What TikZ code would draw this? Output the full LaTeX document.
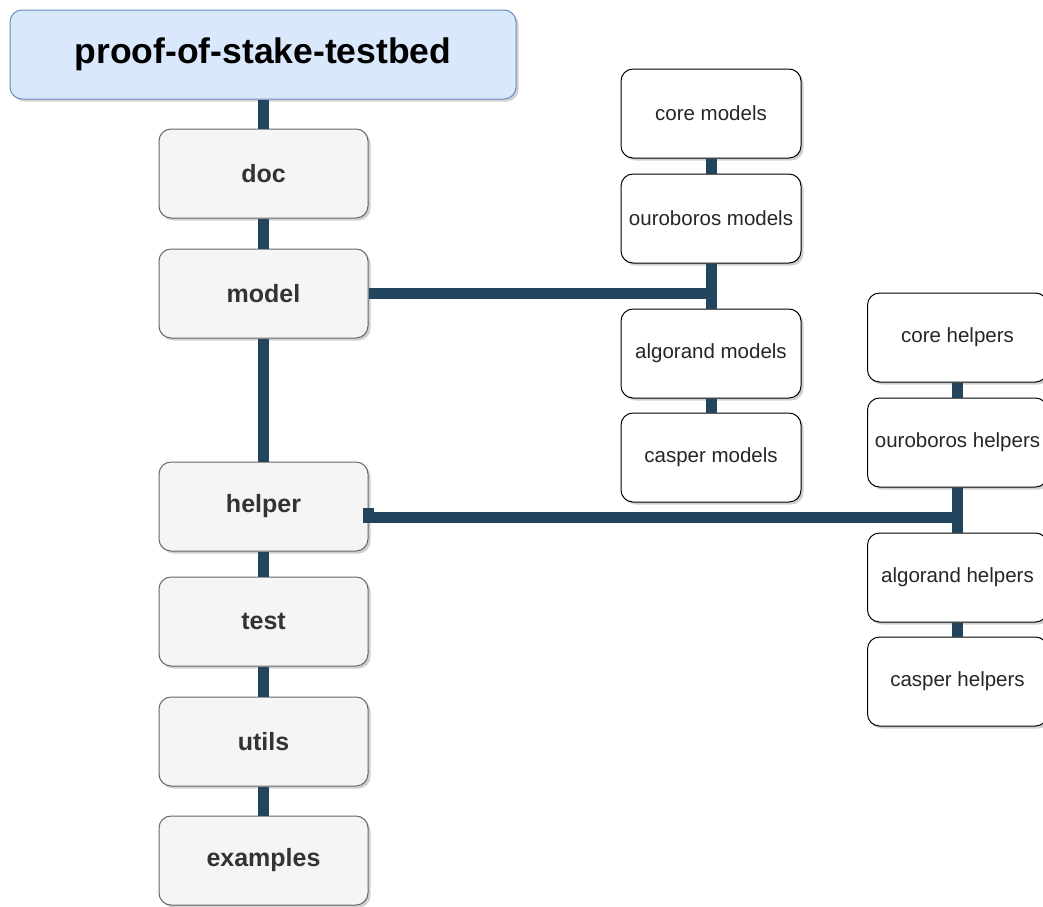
\documentclass[tikz,border=0pt]{standalone}
\usepackage{fontspec}
\setmainfont{Liberation Sans}
\usetikzlibrary{shadows}
\definecolor{linec}{HTML}{23445D}
\definecolor{titlefill}{HTML}{DAE8FC}
\definecolor{titledraw}{HTML}{6C8EBF}
\definecolor{grayfill}{HTML}{F5F5F5}
\definecolor{graydraw}{HTML}{666666}
\definecolor{graytext}{HTML}{333333}
\tikzset{
  shad/.style={drop shadow={shadow xshift=2.5pt,shadow yshift=-2.5pt,opacity=0.3,fill=black!60}},
  titlebox/.style={draw=titledraw,fill=titlefill,line width=1pt,rounded corners=12pt,shad,
    minimum width=506pt,minimum height=89pt,inner sep=2pt,
    font=\fontsize{35.5}{40}\selectfont\bfseries,text=black},
  mainbox/.style={draw=graydraw,fill=grayfill,line width=1pt,rounded corners=12pt,shad,
    minimum width=209pt,minimum height=89pt,inner sep=2pt,
    font=\fontsize{25}{30}\selectfont\bfseries,text=graytext},
  subbox/.style={draw=black,fill=white,line width=1pt,rounded corners=12pt,shad,
    minimum width=180pt,minimum height=89pt,inner sep=2pt,
    font=\fontsize{20.5}{24}\selectfont,text=black!85},
  conn/.style={draw=linec,line width=11pt,line cap=butt,line join=miter}
}
\begin{document}
\begin{tikzpicture}[x=1pt,y=-1pt]
\clip (0,0) rectangle (1043,906);
\fill[white] (0,0) rectangle (1043,906);
% left column nodes
\node[titlebox] (title) at (263,54.5) {proof-of-stake-testbed};
\node[mainbox] (doc) at (263.5,173.5) {doc};
\node[mainbox] (model) at (263.5,293.5) {model};
\node[mainbox] (helper) at (263.5,506.5) {helper};
\node[mainbox] (test) at (263.5,621.5) {test};
\node[mainbox] (utils) at (263.5,741.5) {utils};
\node[mainbox] (examples) at (263.5,860.5) {examples};
% middle column
\node[subbox] (cm) at (711,113.5) {core models};
\node[subbox] (om) at (711,218.5) {ouroboros models};
\node[subbox] (am) at (711,353.5) {algorand models};
\node[subbox] (km) at (711,457.5) {casper models};
% right column
\node[subbox] (ch) at (957.5,337.5) {core helpers};
\node[subbox] (oh) at (957.5,442.5) {ouroboros helpers};
\node[subbox] (ah) at (957.5,577.5) {algorand helpers};
\node[subbox] (kh) at (957.5,681.5) {casper helpers};
% connectors
\draw[conn] (title.south -| doc.north) -- (doc.north);
\draw[conn] (doc.south) -- (model.north);
\draw[conn] (model.south) -- (helper.north);
\draw[conn] (helper.south) -- (test.north);
\draw[conn] (test.south) -- (utils.north);
\draw[conn] (utils.south) -- (examples.north);
\draw[conn] (cm.south) -- (om.north);
\draw[conn] (om.south) -- (am.north);
\draw[conn] (am.south) -- (km.north);
\draw[conn] (model.east) -- ([xshift=5.5pt]model.east -| om.south);
\draw[conn] (ch.south) -- (oh.north);
\draw[conn] (oh.south) -- (ah.north);
\draw[conn] (ah.south) -- (kh.north);
\coordinate (hy) at (0,517);
\draw[conn] ([xshift=-6pt,yshift=-6.5pt]helper.east) -- ++(6,0) -- ++(0,4) -- ([xshift=5.5pt]oh.south |- hy);
\end{tikzpicture}
\end{document}
